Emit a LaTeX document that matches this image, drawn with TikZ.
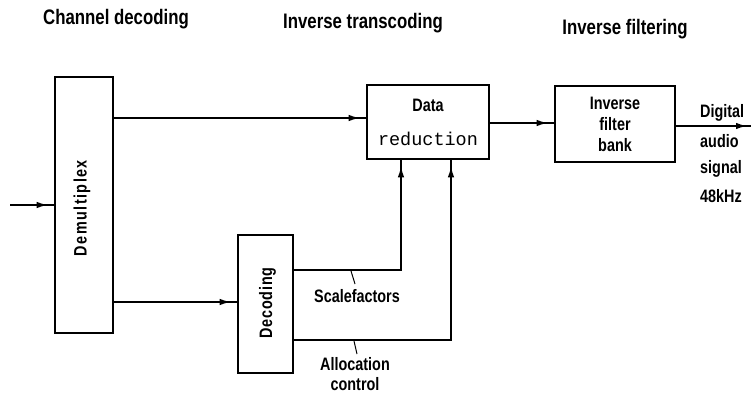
\documentclass[tikz,border=0pt]{standalone}
\usepackage{fontspec}
\usetikzlibrary{arrows.meta,decorations.markings}
\newfontfamily\labfont[FakeStretch=0.8,UprightFont={* Bold}]{Liberation Sans}
\newfontfamily\demuxfont[FakeStretch=0.8,LetterSpace=8,UprightFont={* Bold}]{Liberation Sans}
\newfontfamily\decfont[FakeStretch=0.8,LetterSpace=4.5,UprightFont={* Bold}]{Liberation Sans}
\newfontfamily\monofont{Liberation Mono}

\begin{document}
\begin{tikzpicture}[x=1pt,y=-1pt,
  blk/.style={draw, line width=2.6pt, inner sep=0pt, align=center},
  wire/.style={line width=1.6pt},
  flow/.style={wire, postaction=decorate,
    decoration={markings, mark=at position -6pt with {\arrow{Latex[length=11pt,width=6.5pt]}}}},
  head/.style={font=\fontsize{21}{24}\labfont, anchor=base, inner sep=0pt},
  lab/.style={font=\fontsize{18}{20}\labfont, inner sep=0pt},
  vlab/.style={rotate=90, inner sep=0pt},
  tick/.style={line width=1pt}]

\useasboundingbox (0,0) rectangle (751,396);

% section headings
\node[head] (h1) at (116,25) {Channel decoding};
\node[head] (h2) at (363,29) {Inverse transcoding};
\node[head] (h3) at (625,35) {Inverse filtering};

% blocks
\node[blk, minimum width=58pt, minimum height=256pt] (demux) at (84,205) {};
\node[vlab, font=\fontsize{18}{20}\demuxfont] (demuxtxt) at (82,208) {Demultiplex};

\node[blk, minimum width=55pt, minimum height=138pt] (dec) at (265.5,304) {};
\node[vlab, font=\fontsize{18}{20}\decfont] (dectxt) at (267.5,303) {Decoding};

\node[blk, minimum width=122pt, minimum height=74pt,
      font=\fontsize{18}{34}\labfont] (dr) at (428,122)
      {Data\\\fontsize{18.5}{34}\monofont reduction};

\node[blk, minimum width=120pt, minimum height=76pt,
      font=\fontsize{18}{21}\labfont] (filt) at (615,124)
      {Inverse\\filter\\bank};

% free ends
\coordinate (in) at (10,205);
\coordinate (out) at (753,126);

% connections
\draw[flow] (in) -- (demux.west);
\draw[flow] (demux.east |- 0,118) -- (dr.west |- 0,118);
\draw[flow] (demux.east |- 0,302) -- (dec.west |- 0,302);
\draw[flow] (dec.east |- 0,270) -| (dr.south -| 401,0);
\draw[flow] (dec.east |- 0,340) -| (dr.south -| 451,0);
\draw[flow] (dr.east |- 0,123) -- (filt.west |- 0,123);
\draw[flow] (filt.east |- 0,126) -- (out);

% signal labels
\node[lab, anchor=base] (sf) at (357,302) {Scalefactors};
\coordinate (sft) at (351,271);
\draw[tick] (sft) -- (355,284);

\node[lab, anchor=base] (alloc1) at (355,370) {Allocation};
\node[lab, anchor=base] (alloc2) at (355,390) {control};
\coordinate (alt) at (354,341);
\draw[tick] (alt) -- (357,354);

% output signal description
\node[lab, anchor=base west] (sig1) at (700,117) {Digital};
\node[lab, anchor=base west] (sig2) at (700,147) {audio};
\node[lab, anchor=base west] (sig3) at (700,173) {signal};
\node[lab, anchor=base west] (sig4) at (700,202) {48kHz};
\end{tikzpicture}
\end{document}
